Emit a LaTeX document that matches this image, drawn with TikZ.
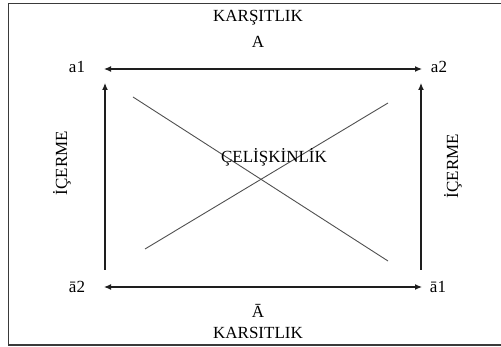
\documentclass[tikz,border=0pt]{standalone}
\usepackage{fontspec}
\setmainfont{Liberation Serif}
\usetikzlibrary{arrows.meta,positioning}
\definecolor{frm}{HTML}{3A3A3A}
\definecolor{lnk}{HTML}{1E1E1E}
\definecolor{crs}{HTML}{505050}
\tikzset{
  lbl/.style   = {font=\fontsize{17}{20}\selectfont, inner sep=1pt},
  side/.style  = {lbl, rotate=90},
  frame/.style = {draw=frm, line width=1.3pt},
  ed/.style    = {{Latex[length=7pt,width=6pt]}-{Latex[length=7pt,width=6pt]}, draw=lnk, line width=1.2pt},
  edu/.style   = {-{Latex[length=7pt,width=6pt]}, draw=lnk, line width=1.2pt},
  cr/.style    = {draw=crs, line width=0.9pt},
}

\begin{document}
\begin{tikzpicture}[x=1pt,y=-1pt]
  \useasboundingbox (0,0) rectangle (501,347);
  \draw[frame] (501,3.5) -- (8.5,3.5) -- (8.5,345) -- (501,345);

  % corners of the square
  \coordinate (tl) at (104,69);
  \coordinate (tr) at (422,69);
  \coordinate (bl) at (104,287);
  \coordinate (br) at (422,287);
  \coordinate (lb) at (105,270);
  \coordinate (lt) at (105,83);
  \coordinate (rb) at (421,270);
  \coordinate (rt) at (421,83);

  % labels
  \node[lbl] (kar)  at (258,18) {KARŞITLIK};
  \node[lbl] (aa)   at (258,42) {A};
  \node[lbl] (a1)   at (77,67) {a1};
  \node[lbl] (a2)   at (439,67) {a2};
  \node[lbl] (na2)  at (77,287) {ā2};
  \node[lbl] (na1)  at (438,287) {ā1};
  \node[lbl] (naa)  at (258,311) {Ā};
  \node[lbl] (kars) at (258,333) {KARSITLIK};
  \node[side] (icl) at (62,163) {İÇERME};
  \node[side] (icr) at (453,166) {İÇERME};

  % arrows
  \draw[ed] (tl) -- (tr);
  \draw[ed] (bl) -- (br);
  \draw[edu] (lb) -- (lt);
  \draw[edu] (rb) -- (rt);

  % cross
  \coordinate (c1) at (133,97);
  \coordinate (c2) at (388,261);
  \coordinate (c3) at (145,249);
  \coordinate (c4) at (388,103);
  \draw[cr] (c1) -- (c2);
  \draw[cr] (c3) -- (c4);
  \node[lbl] (cel) at (274,157) {ÇELİŞKİNLİK};
\end{tikzpicture}
\end{document}
